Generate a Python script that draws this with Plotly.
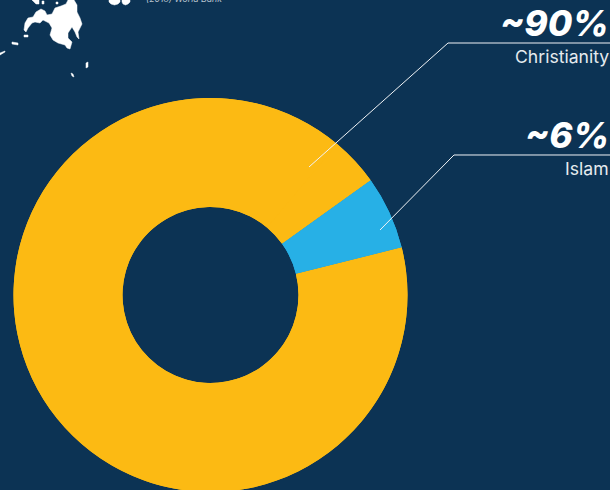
import plotly.graph_objects as go

# Religious affiliation shares (percent)
religions = ["Christianity", "Other", "Islam"]
shares = [90, 4, 6]
YELLOW = "#FCBA13"
BLUE = "#27B0E6"
slice_colors = [YELLOW, YELLOW, BLUE]

BG = "#0C3354"
W, H = 610, 492


def px(x):
    return x / W


def py(y):
    return 1 - y / H


def path(points):
    return "M " + " L ".join(f"{px(x):.5f},{py(y):.5f}" for x, y in points) + " Z"


# Outline of the southern islands shown above the chart
mindanao = [(24, 30), (25, 23), (28, 18), (33, 17), (36, 12), (41, 9), (45, 11), (47, 15),
            (52, 14), (55, 8), (61, 6), (66, 4), (68, 0), (74, 0), (77, 5), (77, 12),
            (80, 18), (82, 24), (80, 28), (78, 32), (79, 39), (77, 37), (75, 32), (72, 27),
            (68, 33), (68, 38), (72, 42), (70, 49), (67, 48), (65, 45), (58, 43), (53, 40),
            (50, 35), (52, 28), (49, 23), (43, 20), (40, 23), (35, 22), (32, 23), (28, 28),
            (26, 32)]
islets = [
    [(24, 35), (28, 35), (28, 37), (24, 37)],
    [(12, 42), (18, 43), (18, 45), (12, 44)],
    [(0, 53), (5, 51), (5, 52), (0, 55)],
    [(86, 63), (88, 62), (88, 67), (86, 68)],
    [(71, 73), (73, 74), (74, 77), (72, 76)],
    [(32, 0), (39, 0), (39, 4), (36, 4)],
    [(42, 1), (44, 1), (44, 4), (42, 4)],
    [(56, 2), (58, 2), (58, 4), (56, 4)],
    [(109, 0), (120, 0), (120, 2), (118, 4), (114.5, 5), (111, 4), (109, 2)],
    [(122, 0), (130, 0), (130, 2), (128, 4), (125.5, 5), (123, 4), (122, 2)],
]

shapes = [dict(type="path", xref="paper", yref="paper", path=path(p),
               fillcolor="white", line=dict(color="white", width=0.5))
          for p in [mindanao] + islets]

# Leader lines from each slice to its label
for pts in ([(309, 167), (448, 43), (610, 43)], [(380, 230), (454, 155), (610, 155)]):
    d = "M " + " L ".join(f"{px(x):.5f},{py(y):.5f}" for x, y in pts)
    shapes.append(dict(type="path", xref="paper", yref="paper", path=d,
                       line=dict(color="#F0F3F6", width=1)))


def label(text, y, size, color, weight=400, style="normal", x=610.5):
    return dict(text=text, x=px(x), y=py(y), xref="paper", yref="paper",
                xanchor="right", yanchor="middle", showarrow=False,
                font=dict(family="Inter", size=size, color=color, weight=weight, style=style))


annotations = [
    label("~90%", 23, 35.5, "white", 800, "italic"),
    label("Christianity", 57, 17.6, "#E6EBEF"),
    label("~6%", 136, 35.5, "white", 800, "italic"),
    label("Islam", 168, 17.6, "#E6EBEF"),
    label("(2018) World Bank", -1, 8.7, "#B8C4CF", 400, "italic", x=224),
]

ring = dict(
    sort=False,
    direction="clockwise",
    rotation=76,
    hole=88 / 197,
    textinfo="none",
    showlegend=False,
    domain=dict(x=[px(13.5), px(407.5)], y=[0, py(98)]),
)

# The yellow slices share a colour, so a merged ring underneath hides the joint between them
merged = go.Pie(labels=["Christianity and other", "Islam"],
                values=[shares[0] + shares[1], shares[2]],
                marker=dict(colors=[YELLOW, BLUE], line=dict(width=0)),
                hoverinfo="skip", **ring)
slices = go.Pie(labels=religions, values=shares,
                marker=dict(colors=slice_colors, line=dict(width=0)), **ring)

fig = go.Figure([merged, slices])

fig.update_layout(
    width=W, height=H, autosize=False,
    margin=dict(l=0, r=0, t=0, b=0),
    paper_bgcolor=BG, plot_bgcolor=BG,
    shapes=shapes, annotations=annotations,
)

fig.write_html("out.html", config=dict(displayModeBar=False))
